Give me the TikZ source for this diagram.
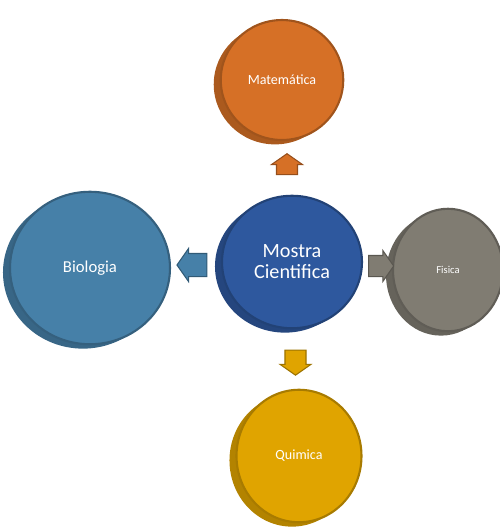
\documentclass[tikz,border=0pt]{standalone}
\usepackage{fontspec}
\setmainfont{Carlito}
\usetikzlibrary{shapes.geometric,shapes.arrows,calc,shadows}

\definecolor{laranja}{RGB}{214,112,38}
\definecolor{azulc}{RGB}{46,88,158}
\definecolor{azulb}{RGB}{70,128,168}
\definecolor{cinza}{RGB}{128,124,114}
\definecolor{ouro}{RGB}{224,164,0}

\tikzset{
  disco/.style={ellipse, inner sep=0pt, fill=#1, draw=#1!75!black, line width=1.2pt,
    text=white, align=center,
    drop shadow={shadow xshift=-4pt, shadow yshift=-2.5pt, fill=#1!80!black, opacity=1}},
  seta/.style={single arrow, fill=#1, draw=#1!70!black, line width=0.6pt,
    single arrow head extend=0.1cm, single arrow tip angle=110,
    inner xsep=0pt, inner ysep=0.2cm}
}

\begin{document}
\begin{tikzpicture}[x=0.02cm, y=-0.02cm]
	\useasboundingbox (0,0) rectangle (500,529);

	\node[disco=azulc, minimum width=2.8cm, minimum height=2.65cm, font=\fontsize{11.5}{12}\selectfont] (centro) at (292,262) {Mostra\\Cientifica};

	\node[disco=laranja, minimum width=2.45cm, minimum height=2.4cm, font=\fontsize{8}{9}\selectfont] (mat) at (282,80) {Matemática};

	\node[disco=azulb, minimum width=3.2cm, minimum height=3.05cm, font=\fontsize{9.5}{10}\selectfont] (bio) at (90,268) {Biologia};

	\node[disco=cinza, minimum width=2.2cm, minimum height=2.45cm, font=\fontsize{6}{7}\selectfont] (fis) at (448,270) {Fisica};

	\node[disco=ouro, minimum width=2.5cm, minimum height=2.65cm, font=\fontsize{8}{9}\selectfont] (qui) at (299,456) {Quimica};

	\node[seta=laranja, rotate=90, minimum height=0.42cm] (setaMat) at ($(centro.north)!0.5!(mat.south)$) {};
	\node[seta=azulb, rotate=180, minimum height=0.6cm, inner ysep=0.22cm] (setaBio) at ($(centro.west)!0.5!(bio.east)$) {};
	\node[seta=cinza, minimum height=0.5cm] (setaFis) at ($(centro.east)!0.5!(fis.west)$) {};
	\node[seta=ouro, rotate=-90, minimum height=0.5cm] (setaQui) at ($(centro.south)!0.5!(qui.north)$) {};

\end{tikzpicture}
\end{document}
